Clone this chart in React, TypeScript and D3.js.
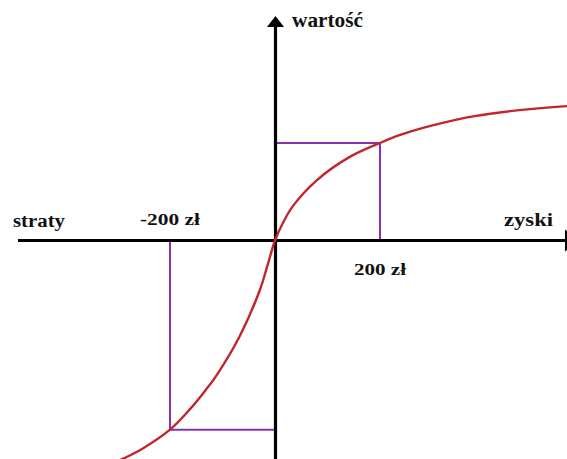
import React from "react";
import * as d3 from "d3";

// Data (zł -> value)
const gainX = [0, 15, 35, 80, 140, 200, 240, 300, 380, 470, 560];
const gainV = [0, 18, 36, 62, 85, 100, 108.5, 118, 127.5, 134, 138];
const lossX = [-314, -290, -251, -200, -162, -133, -111, -67, -29, -14, 0];
const lossV = [-230, -224, -213, -194, -173, -154, -138, -98, -51, -25, 0];
const refGain = 200;
const refLoss = -200;
const axisLabelY = "wartość";
const axisLabelLeft = "straty";
const axisLabelRight = "zyski";
const tickLabels = ["-200 zł", "200 zł"];

const W = 567;
const H = 459;

export default function App() {
  const x = d3.scaleLinear().domain([-200, 200]).range([170, 380]);
  const y = d3.scaleLinear().domain([0, 100]).range([240.5, 143]);

  const pts: [number, number][] = [
    ...lossX.map((v, i) => [v, lossV[i]] as [number, number]),
    ...gainX.slice(1).map((v, i) => [v, gainV[i + 1]] as [number, number]),
  ];
  const line = d3
    .line<[number, number]>()
    .x((d) => x(d[0]))
    .y((d) => y(d[1]))
    .curve(d3.curveCatmullRom.alpha(0.5));

  const vGain = gainV[gainX.indexOf(refGain)];
  const vLoss = lossV[lossX.indexOf(refLoss)];
  const x0 = x(0);
  const y0 = y(0);

  const purple = "#8a2fb0";
  const red = "#c0262b";
  const textStyle = {
    fontFamily: '"Liberation Serif", "DejaVu Serif", "Times New Roman", serif',
    fontWeight: 700,
  } as React.CSSProperties;

  return (
    <svg
      width={W}
      height={H}
      style={{ position: "absolute", left: 0, top: 0, background: "#fff" }}
    >
      {/* reference lines */}
      <g stroke={purple} strokeWidth={2} fill="none">
        <polyline
          points={`${x0},${y(vGain)} ${x(refGain)},${y(vGain)} ${x(refGain)},${y0}`}
        />
        <polyline
          points={`${x(refLoss)},${y0} ${x(refLoss)},${y(vLoss)} ${x0},${y(vLoss)}`}
        />
      </g>
      {/* axes */}
      <g stroke="#000" strokeWidth={3.2}>
        <line x1={18} x2={566} y1={y0} y2={y0} />
        <line x1={x0 + 0.5} x2={x0 + 0.5} y1={24} y2={H + 5} />
      </g>
      <polygon
        points={`${x0 + 0.5},16 ${x0 - 8},27 ${x0 + 9},27`}
        fill="#000"
      />
      <polygon points={`565,${y0 - 11} 565,${y0 + 11} 580,${y0}`} fill="#000" />
      {/* curve */}
      <path d={line(pts) || ""} fill="none" stroke={red} strokeWidth={2.4} />
      {/* labels */}
      <g fill="#111" style={textStyle}>
        <text x={292} y={27} fontSize={20} textLength={71} lengthAdjust="spacingAndGlyphs">
          {axisLabelY}
        </text>
        <text x={13} y={227} fontSize={18} textLength={52} lengthAdjust="spacingAndGlyphs">
          {axisLabelLeft}
        </text>
        <text x={504} y={226} fontSize={18} textLength={49} lengthAdjust="spacingAndGlyphs">
          {axisLabelRight}
        </text>
        <text x={140} y={225} fontSize={17} textLength={60} lengthAdjust="spacingAndGlyphs">
          {tickLabels[0]}
        </text>
        <text x={354} y={275} fontSize={17} textLength={52} lengthAdjust="spacingAndGlyphs">
          {tickLabels[1]}
        </text>
      </g>
    </svg>
  );
}
